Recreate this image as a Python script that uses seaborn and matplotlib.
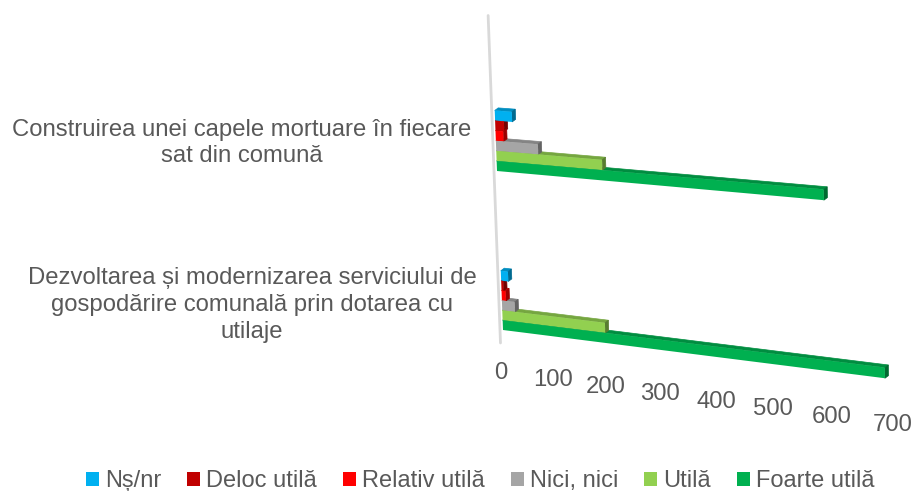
import numpy as np
import pandas as pd
import seaborn as sns
import matplotlib.pyplot as plt
from matplotlib.patches import Polygon
from matplotlib.transforms import Affine2D, Transform

# Values
items = ["Construirea unei capele mortuare în fiecare\nsat din comună",
         "Dezvoltarea și modernizarea serviciului de\ngospodărire comunală prin dotarea cu\nutilaje"]
answers = ["Nș/nr", "Deloc utilă", "Relativ utilă", "Nici, nici", "Utilă", "Foarte utilă"]
capele = [33, 17, 15, 81, 201, 592]
gospodarire = [14, 4, 8, 25, 197, 690]
colors = ["#00B0F0", "#C00000", "#FF0000", "#A5A5A5", "#92D050", "#00B050"]
ticks = [0, 100, 200, 300, 400, 500, 600, 700]

TEXT = "#595959"
FS = 17.2
BAR_W = 0.375
DEPTH = np.array([3.5, -2.6])


# Perspective of the 3D chart: (value, row) -> reference pixels
class Perspective(Transform):
    input_dims = output_dims = 2
    is_separable = False
    has_inverse = False

    def __init__(self, src, dst):
        super().__init__()
        a = []
        b = []
        for (x, y), (u, v) in zip(src, dst):
            a.append([x, y, 1, 0, 0, 0, -u * x, -u * y])
            a.append([0, 0, 0, x, y, 1, -v * x, -v * y])
            b += [u, v]
        self.m = np.append(np.linalg.solve(np.array(a, float), np.array(b, float)), 1).reshape(3, 3)

    def transform_non_affine(self, values):
        pts = np.column_stack([values, np.ones(len(values))]) @ self.m.T
        return pts[:, :2] / pts[:, 2:]


sns.set_theme(style="white")
plt.rcParams['font.family'] = ['Liberation Sans', 'DejaVu Sans']

df = pd.DataFrame({
    "item": [items[0]] * 6 + [items[1]] * 6,
    "answer": answers * 2,
    "n": capele + gospodarire,
})

fig = plt.figure(figsize=(9.14, 4.91), dpi=100)
ax = fig.add_axes([0, 0, 1, 1])
sns.barplot(data=df, y="item", x="n", hue="answer", order=items, hue_order=answers,
            palette=dict(zip(answers, colors)), width=BAR_W, gap=0, saturation=1,
            linewidth=0, ax=ax)
ax.axis("off")

pix = Affine2D().scale(1, -1).translate(0, 491)
persp = Perspective([(0, BAR_W / 2), (0, 1 + BAR_W / 2), (700, BAR_W / 2), (700, 1 + BAR_W / 2)],
                    [(497, 171), (503, 330), (889, 206), (891, 379)])
T = persp + pix

# back wall line
ax.plot([0, 0], [-0.77, 1.27], color="#D9D9D9", lw=2,
        transform=persp + Affine2D().translate(-3, 0) + pix, clip_on=False, zorder=0)

for container, col in zip(ax.containers, colors):
    rgb = np.array(plt.matplotlib.colors.to_rgb(col))
    for bar in container:
        x, y, w, h = bar.get_x(), bar.get_y(), bar.get_width(), bar.get_height()
        bar.set_transform(T)
        bar.set_clip_on(False)
        bar.set_zorder(3)
        tl, tr, br = persp.transform(np.array([[x, y], [x + w, y], [x + w, y + h]]))
        # thin edge on the side faces so no white seam shows next to the front face
        ax.add_patch(Polygon([tl, tr, tr + DEPTH, tl + DEPTH], facecolor=rgb * 0.8,
                             edgecolor=rgb * 0.8, lw=0.5, transform=pix, clip_on=False, zorder=1))
        ax.add_patch(Polygon([tr, br, br + DEPTH, tr + DEPTH], facecolor=rgb * 0.6,
                             edgecolor=rgb * 0.6, lw=0.5, transform=pix, clip_on=False, zorder=2))

# value axis labels follow the tilted floor
for t in ticks:
    nudge = Affine2D().translate(-4 + t / 150, 0)
    ax.text(t, 1.46, str(t), transform=persp + nudge + pix, ha="center", va="center",
            fontsize=FS, color=TEXT)

ax.text(242, 143, items[0], transform=pix, ha="center", va="center", fontsize=FS,
        color=TEXT, linespacing=1.27)
ax.text(252, 305, items[1], transform=pix, ha="center", va="center", fontsize=FS,
        color=TEXT, linespacing=1.29)

sns.move_legend(ax, "lower left", bbox_to_anchor=(81 / 914, -0.012), ncol=6, frameon=False, title=None,
                fontsize=17, labelcolor=TEXT, handlelength=0.56, handleheight=0.56,
                handletextpad=0.25, columnspacing=1.1, borderpad=0, borderaxespad=0.2)

fig.savefig("out.png", dpi=100)
